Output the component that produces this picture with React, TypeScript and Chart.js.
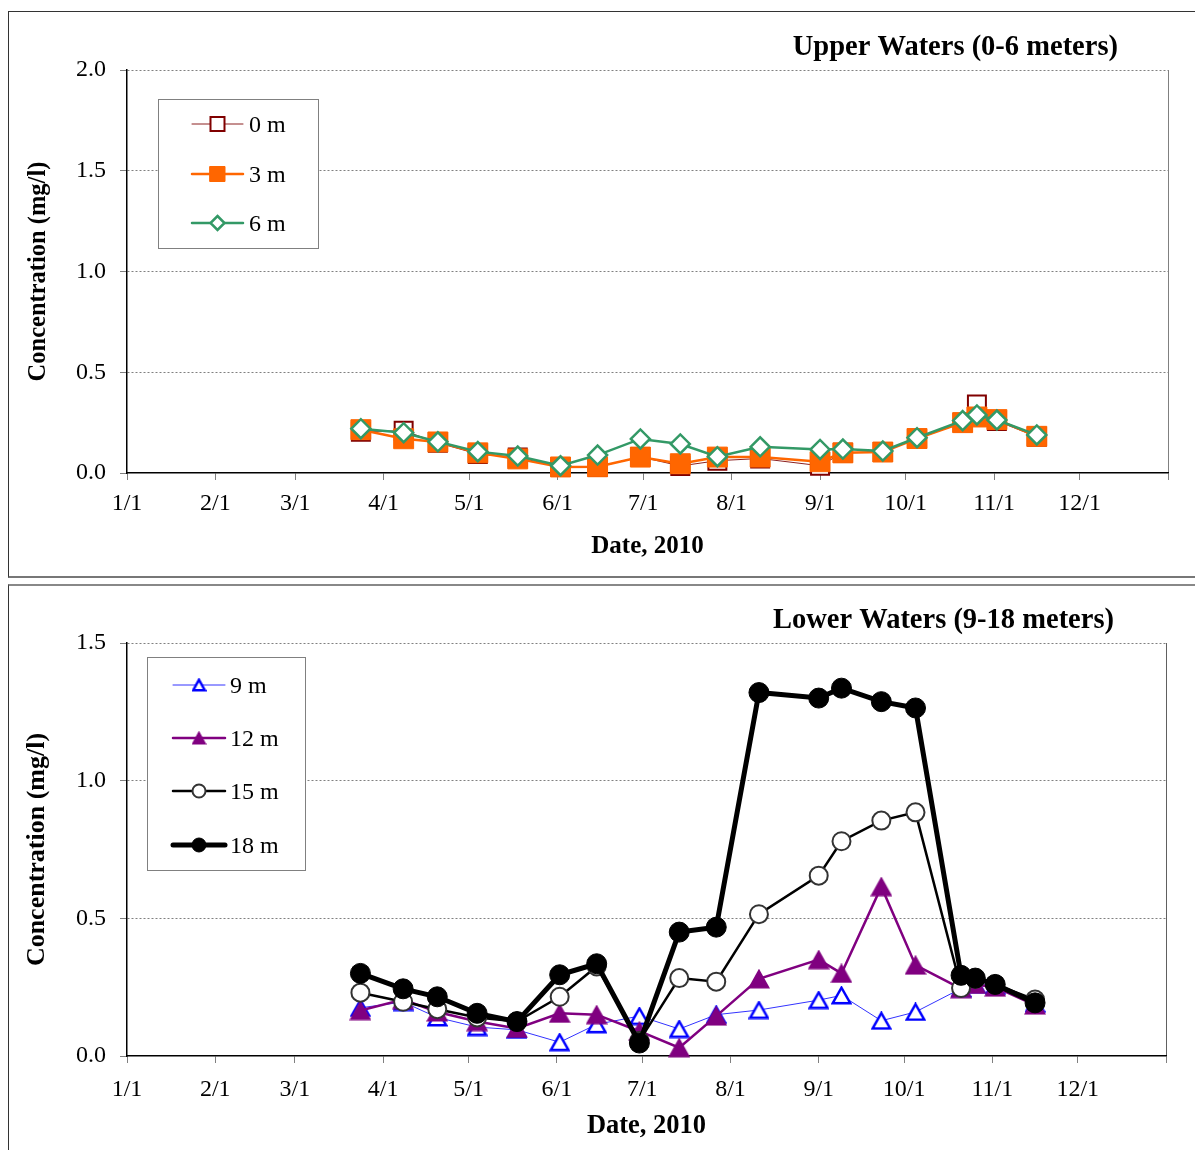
import React, { useEffect, useRef } from "react";
import { Chart, registerables } from "chart.js";

Chart.register(...registerables);

const FONT = "'Liberation Serif', 'Times New Roman', Times, serif";

// ---- data ----
// x axis = day of year 2010 (0 = 1/1)
const MONTH_TICK_DAYS = [0, 31, 59, 90, 120, 151, 181, 212, 243, 273, 304, 334, 365];
const MONTH_TICK_LABELS = ["1/1", "2/1", "3/1", "4/1", "5/1", "6/1", "7/1", "8/1", "9/1", "10/1", "11/1", "12/1", ""];
const SAMPLE_DAYS = [82, 97, 109, 123, 137, 152, 165, 180, 194, 207, 222, 243, 251, 265, 277, 293, 298, 305, 319];

const UPPER_Y_TICKS = [0, 0.5, 1.0, 1.5, 2.0];
const LOWER_Y_TICKS = [0, 0.5, 1.0, 1.5];

const DEPTH_0M = [0.205, 0.21, 0.15, 0.094, 0.077, 0.03, 0.03, 0.08, 0.035, 0.061, 0.072, 0.036, 0.10, 0.104, 0.17, 0.25, 0.34, 0.258, 0.18];
const DEPTH_3M = [0.215, 0.17, 0.154, 0.10, 0.07, 0.03, 0.031, 0.079, 0.046, 0.079, 0.079, 0.056, 0.10, 0.104, 0.171, 0.25, 0.278, 0.265, 0.182];
const DEPTH_6M = [0.22, 0.20, 0.155, 0.106, 0.084, 0.036, 0.089, 0.169, 0.144, 0.081, 0.13, 0.117, 0.119, 0.109, 0.175, 0.26, 0.288, 0.263, 0.189];

const DEPTH_9M = [0.175, 0.196, 0.14, 0.105, 0.095, 0.05, 0.115, 0.145, 0.098, 0.15, 0.167, 0.203, 0.22, 0.128, 0.16, 0.245, 0.26, 0.255, 0.19];
const DEPTH_12M = [0.165, 0.205, 0.16, 0.125, 0.10, 0.155, 0.15, 0.09, 0.03, 0.145, 0.28, 0.35, 0.30, 0.615, 0.33, 0.245, 0.26, 0.25, 0.185];
const DEPTH_15M = [0.23, 0.197, 0.17, 0.14, 0.125, 0.215, 0.325, 0.055, 0.283, 0.27, 0.515, 0.655, 0.78, 0.855, 0.885, 0.247, 0.28, 0.26, 0.205];
const DEPTH_18M = [0.30, 0.244, 0.215, 0.155, 0.125, 0.295, 0.335, 0.047, 0.45, 0.468, 1.32, 1.30, 1.336, 1.287, 1.264, 0.293, 0.283, 0.26, 0.193];

// ---- styling helpers ----
type MarkerKind = "rect" | "rectRot" | "circle" | "tri";
interface Marker {
  kind: MarkerKind;
  radius: number;
  fill: string;
  stroke: string;
  bw: number;
  legendSize: number;
  triW?: number;
  triH?: number;
}
interface Series {
  label: string;
  values: number[];
  color: string;
  width: number;
  marker: Marker;
}

function triangleImage(fill: string, stroke: string, lw: number, w: number, h: number) {
  const c = document.createElement("canvas");
  c.width = w;
  c.height = h;
  const ctx = c.getContext("2d")!;
  const p = lw / 2 + 0.5;
  ctx.beginPath();
  ctx.moveTo(w / 2, p);
  ctx.lineTo(w - p, h - p);
  ctx.lineTo(p, h - p);
  ctx.closePath();
  ctx.fillStyle = fill;
  ctx.fill();
  ctx.lineWidth = lw;
  ctx.strokeStyle = stroke;
  ctx.lineJoin = "miter";
  ctx.stroke();
  return c;
}

function drawMarker(ctx: CanvasRenderingContext2D, m: Marker, x: number, y: number) {
  const s = m.legendSize;
  ctx.save();
  ctx.fillStyle = m.fill;
  ctx.strokeStyle = m.stroke;
  ctx.lineWidth = m.bw;
  if (m.kind === "rect") {
    ctx.beginPath();
    ctx.rect(x - s / 2, y - s / 2, s, s);
    ctx.fill();
    ctx.stroke();
  } else if (m.kind === "rectRot") {
    ctx.beginPath();
    ctx.moveTo(x, y - s / 2);
    ctx.lineTo(x + s / 2, y);
    ctx.lineTo(x, y + s / 2);
    ctx.lineTo(x - s / 2, y);
    ctx.closePath();
    ctx.fill();
    ctx.stroke();
  } else if (m.kind === "circle") {
    ctx.beginPath();
    ctx.arc(x, y, s / 2, 0, Math.PI * 2);
    ctx.fill();
    ctx.stroke();
  } else {
    const h = s * 0.92;
    const img = triangleImage(m.fill, m.stroke, m.bw, Math.round(s), Math.round(h));
    ctx.drawImage(img, x - img.width / 2, y - img.height / 2);
  }
  ctx.restore();
}

interface PanelSpec {
  width: number;
  height: number;
  series: Series[];
  yTicks: number[];
  padTop: number;
  padRight: number;
  yWidth: number;
  xHeight: number;
  tickFont: number;
  xLabelPad: number;
  xTitleSize: number;
  xTitlePad: number;
  yTitleSize: number;
  yTitlePad: number;
  title: string;
  titleSize: number;
  titleX: number;
  titleY: number;
  plotRightColor: string;
  legend: {
    x: number;
    y: number;
    w: number;
    h: number;
    rows: number[];
    lineX1: number;
    lineX2: number;
    textX: number;
    fontSize: number;
  };
}

const SQUARE_OPEN: Marker = { kind: "rect", radius: 12.7, fill: "#FFFFFF", stroke: "#800000", bw: 2, legendSize: 14 };
const SQUARE_FILLED: Marker = { kind: "rect", radius: 14.1, fill: "#FF6600", stroke: "#FF6600", bw: 1, legendSize: 15 };
const DIAMOND_OPEN: Marker = { kind: "rectRot", radius: 9.5, fill: "#FFFFFF", stroke: "#339966", bw: 2.5, legendSize: 14 };
const TRI_OPEN: Marker = { kind: "tri", radius: 10, fill: "#FFFFFF", stroke: "#0000FF", bw: 2.5, legendSize: 15, triW: 21, triH: 19 };
const TRI_FILLED: Marker = { kind: "tri", radius: 10, fill: "#800080", stroke: "#800080", bw: 1.5, legendSize: 15, triW: 22, triH: 20 };
const CIRCLE_OPEN: Marker = { kind: "circle", radius: 9, fill: "#FFFFFF", stroke: "#333333", bw: 2, legendSize: 13 };
const CIRCLE_FILLED: Marker = { kind: "circle", radius: 10, fill: "#000000", stroke: "#000000", bw: 1, legendSize: 14 };

const UPPER_SERIES: Series[] = [
  { label: "0 m", values: DEPTH_0M, color: "#8B2020", width: 1, marker: SQUARE_OPEN },
  { label: "3 m", values: DEPTH_3M, color: "#FF6600", width: 2.5, marker: SQUARE_FILLED },
  { label: "6 m", values: DEPTH_6M, color: "#339966", width: 2.5, marker: DIAMOND_OPEN },
];
const LOWER_SERIES: Series[] = [
  { label: "9 m", values: DEPTH_9M, color: "#3333FF", width: 1, marker: TRI_OPEN },
  { label: "12 m", values: DEPTH_12M, color: "#800080", width: 2.5, marker: TRI_FILLED },
  { label: "15 m", values: DEPTH_15M, color: "#000000", width: 2.5, marker: CIRCLE_OPEN },
  { label: "18 m", values: DEPTH_18M, color: "#000000", width: 5, marker: CIRCLE_FILLED },
];

function buildConfig(spec: PanelSpec): any {
  const n = spec.series.length;
  const datasets = spec.series.map((s, i) => {
    const m = s.marker;
    const pointStyle: any =
      m.kind === "tri" ? triangleImage(m.fill, m.stroke, m.bw, m.triW || 20, m.triH || 18) : m.kind;
    return {
      label: s.label,
      data: SAMPLE_DAYS.map((d, j) => ({ x: d, y: s.values[j] })),
      borderColor: s.color,
      borderWidth: s.width,
      backgroundColor: s.color,
      pointStyle,
      pointRadius: m.radius,
      pointBackgroundColor: m.fill,
      pointBorderColor: m.stroke,
      pointBorderWidth: m.bw,
      tension: 0,
      clip: false,
      order: n - i,
    };
  });

  const yt = spec.yTicks;
  const decor = {
    id: "decor",
    afterDraw(chart: any) {
      const ctx: CanvasRenderingContext2D = chart.ctx;
      ctx.save();
      ctx.font = `bold ${spec.titleSize}px ${FONT}`;
      ctx.fillStyle = "#000";
      ctx.textAlign = "right";
      ctx.textBaseline = "middle";
      ctx.fillText(spec.title, spec.titleX, spec.titleY);

      const L = spec.legend;
      ctx.fillStyle = "#FFFFFF";
      ctx.fillRect(L.x, L.y, L.w, L.h);
      ctx.strokeStyle = "#808080";
      ctx.lineWidth = 1;
      ctx.strokeRect(L.x + 0.5, L.y + 0.5, L.w, L.h);
      spec.series.forEach((s, i) => {
        const y = L.rows[i];
        ctx.strokeStyle = s.color;
        ctx.lineWidth = s.width;
        ctx.lineCap = "round";
        ctx.beginPath();
        ctx.moveTo(L.lineX1, y);
        ctx.lineTo(L.lineX2, y);
        ctx.stroke();
        drawMarker(ctx, s.marker, (L.lineX1 + L.lineX2) / 2, y);
        ctx.fillStyle = "#000";
        ctx.font = `${L.fontSize}px ${FONT}`;
        ctx.textAlign = "left";
        ctx.textBaseline = "middle";
        ctx.fillText(s.label, L.textX, y + 2);
      });
      ctx.restore();
    },
  };

  return {
    type: "line",
    data: { datasets },
    plugins: [decor],
    options: {
      animation: false,
      responsive: false,
      events: [],
      layout: { padding: { top: spec.padTop, right: spec.padRight, left: 0, bottom: 0 } },
      plugins: { legend: { display: false }, tooltip: { enabled: false }, title: { display: false } },
      scales: {
        x: {
          type: "linear",
          min: MONTH_TICK_DAYS[0],
          max: MONTH_TICK_DAYS[MONTH_TICK_DAYS.length - 1],
          afterBuildTicks: (scale: any) => {
            scale.ticks = MONTH_TICK_DAYS.map((v) => ({ value: v }));
          },
          afterFit: (scale: any) => {
            scale.height = spec.xHeight;
          },
          ticks: {
            autoSkip: false,
            maxRotation: 0,
            minRotation: 0,
            padding: spec.xLabelPad,
            color: "#000",
            font: { family: FONT, size: spec.tickFont },
            callback: (_v: any, i: number) => MONTH_TICK_LABELS[i],
          },
          grid: {
            drawOnChartArea: true,
            drawTicks: true,
            tickLength: 7,
            color: (c: any) => (c.tick && c.tick.value === 365 ? spec.plotRightColor : "rgba(0,0,0,0)"),
            tickColor: "#808080",
            lineWidth: 1,
          },
          border: { display: true, color: "#000", width: 1.5 },
          title: {
            display: true,
            text: "Date, 2010",
            color: "#000",
            font: { family: FONT, size: spec.xTitleSize, weight: "bold" },
            padding: { top: 0, bottom: spec.xTitlePad },
          },
        },
        y: {
          type: "linear",
          min: yt[0],
          max: yt[yt.length - 1],
          afterFit: (scale: any) => {
            scale.width = spec.yWidth;
          },
          ticks: {
            stepSize: yt[1] - yt[0],
            padding: 14,
            color: "#000",
            font: { family: FONT, size: spec.tickFont },
            callback: (v: any) => Number(v).toFixed(1),
          },
          grid: {
            drawOnChartArea: true,
            drawTicks: true,
            tickLength: 7,
            color: (c: any) => (c.tick && c.tick.value === 0 ? "rgba(0,0,0,0)" : "#808080"),
            tickColor: "#808080",
            lineWidth: 1,
          },
          border: { display: true, color: "#000", width: 1.5, dash: [2, 2] },
          title: {
            display: true,
            text: "Concentration (mg/l)",
            color: "#000",
            font: { family: FONT, size: spec.yTitleSize, weight: "bold" },
            padding: { top: spec.yTitlePad, bottom: 0 },
          },
        },
      },
    },
  };
}

function Panel({ spec }: { spec: PanelSpec }) {
  const ref = useRef<HTMLCanvasElement>(null);
  useEffect(() => {
    const chart = new Chart(ref.current as HTMLCanvasElement, buildConfig(spec));
    return () => chart.destroy();
  }, []);
  return (
    <canvas
      ref={ref}
      width={spec.width}
      height={spec.height}
      style={{ display: "block", width: spec.width, height: spec.height }}
    />
  );
}

const UPPER_SPEC: PanelSpec = {
  width: 1186,
  height: 564,
  series: UPPER_SERIES,
  yTicks: UPPER_Y_TICKS,
  padTop: 58,
  padRight: 27,
  yWidth: 118,
  xHeight: 103,
  tickFont: 24,
  xLabelPad: 9,
  xTitleSize: 25,
  xTitlePad: 14,
  yTitleSize: 24.5,
  yTitlePad: 14.5,
  title: "Upper Waters (0-6 meters)",
  titleSize: 28.5,
  titleX: 1109,
  titleY: 36,
  plotRightColor: "#808080",
  legend: { x: 149, y: 87, w: 160, h: 149, rows: [112, 162, 211], lineX1: 183, lineX2: 234, textX: 240, fontSize: 24 },
};

const LOWER_SPEC: PanelSpec = {
  width: 1186,
  height: 564,
  series: LOWER_SERIES,
  yTicks: LOWER_Y_TICKS,
  padTop: 57,
  padRight: 29,
  yWidth: 118,
  xHeight: 94,
  tickFont: 24,
  xLabelPad: 12,
  xTitleSize: 26.5,
  xTitlePad: 8,
  yTitleSize: 26,
  yTitlePad: 13,
  title: "Lower Waters (9-18 meters)",
  titleSize: 28.5,
  titleX: 1105,
  titleY: 35,
  plotRightColor: "#606060",
  legend: { x: 138, y: 71, w: 158, h: 213, rows: [99, 152, 205, 259], lineX1: 164, lineX2: 216, textX: 221, fontSize: 24 },
};

export default function App() {
  return (
    <div
      style={{
        position: "fixed",
        left: 0,
        top: 0,
        width: 1195,
        height: 1150,
        overflow: "hidden",
        background: "#fff",
      }}
    >
      <div
        style={{
          position: "absolute",
          left: 8,
          top: 11,
          width: 1187,
          height: 567,
          boxSizing: "border-box",
          borderTop: "1px solid #333",
          borderLeft: "1px solid #333",
          borderBottom: "2px solid #777",
          background: "#fff",
        }}
      >
        <Panel spec={UPPER_SPEC} />
      </div>
      <div
        style={{
          position: "absolute",
          left: 8,
          top: 584,
          width: 1187,
          height: 566,
          boxSizing: "border-box",
          borderTop: "2px solid #888",
          borderLeft: "1px solid #333",
          background: "#fff",
        }}
      >
        <Panel spec={LOWER_SPEC} />
      </div>
    </div>
  );
}
